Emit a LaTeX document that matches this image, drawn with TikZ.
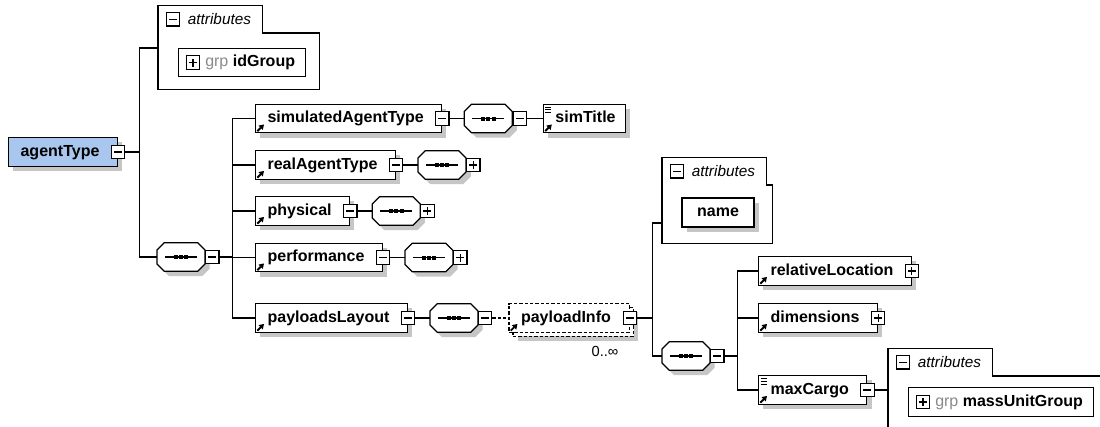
\documentclass[tikz,border=0pt]{standalone}
\usepackage{fontspec}
\setmainfont{Liberation Sans}
\usepackage{xcolor}
\usepackage{tikz}
\usetikzlibrary{arrows.meta,positioning,shadows}
\definecolor{rootblue}{HTML}{A8C6EE}
\definecolor{shadegray}{HTML}{C6C6C6}
\definecolor{grpgray}{HTML}{8A8A8A}
\newcommand{\refmark}{%
  \draw[solid, line width=1.4pt, -{Triangle[length=3.6pt,width=4.4pt]}]
    ([shift={(1.3pt,1.3pt)}]path picture bounding box.south west) -- ++(5pt,5pt);}
\newcommand{\textmark}{%
  \foreach \h in {2.2pt,4.2pt,6.2pt}
    \draw[solid, line width=0.6pt] ([shift={(1.5pt,-\h)}]path picture bounding box.north west) -- ++(4.5pt,0pt);}
\newcommand{\minusmark}{%
  \draw[line width=0.8pt] ([xshift=-3pt]path picture bounding box.center) -- ++(6pt,0pt);}
\newcommand{\plusmark}{\minusmark
  \draw[line width=0.8pt] ([yshift=-3pt]path picture bounding box.center) -- ++(0pt,6pt);}
% octagon of a sequence compositor, drawn round its node
\newcommand{\octa}[1]{%
  \filldraw[fill=white, grayshadow] ([xshift=5.5pt]#1.north west) -- ([xshift=-5.5pt]#1.north east)
    -- ([yshift=-5.5pt]#1.north east) -- ([yshift=5.5pt]#1.south east)
    -- ([xshift=-5.5pt]#1.south east) -- ([xshift=5.5pt]#1.south west)
    -- ([yshift=5.5pt]#1.south west) -- ([yshift=-5.5pt]#1.north west) -- cycle;
  \draw ([xshift=-12pt]#1.center) -- ++(24pt,0pt);
  \foreach \d in {-4pt,0pt,4pt}
    \fill[black] ([xshift=\d]#1.center) +(-1.5pt,-1.5pt) rectangle +(1.5pt,1.5pt);}

\begin{document}
\begin{tikzpicture}[x=0.75pt, y=-0.75pt, line width=0.9pt,
  font=\fontsize{12}{14}\selectfont,
  grayshadow/.style={drop shadow={shadow xshift=3.5pt, shadow yshift=-3.5pt,
                     fill=shadegray, opacity=1}},
  ebox/.style={draw, fill=white, anchor=west, font=\fontsize{12}{14}\selectfont\bfseries,
               minimum height=21.5pt, inner sep=0pt, text height=9pt, text depth=2.5pt,
               execute at begin node={\hspace*{9pt}}, execute at end node={\hspace*{#1}},
               path picture={\refmark}},
  ebox/.default=13.5pt,
  elem/.style={ebox=#1, grayshadow}, elem/.default=13.5pt,
  elemtxt/.style={elem=#1, path picture={\refmark\textmark}}, elemtxt/.default=13.5pt,
  opt/.style={dash pattern=on 2.5pt off 1.5pt},
  seq/.style={anchor=west, minimum width=36pt, minimum height=21.5pt, inner sep=0pt,
              outer sep=0pt},
  tgl/.style={draw, fill=white, minimum size=10pt, inner sep=0pt, path picture={\minusmark}},
  tglp/.style={tgl, path picture={\plusmark}},
  attrbox/.style={fill=white, anchor=north west, inner sep=0pt},
  attrtab/.style={anchor=south west, minimum height=19.5pt, inner sep=0pt,
                  font=\fontsize{11.5}{13}\selectfont\itshape,
                  execute at begin node={\hspace*{22pt}}, execute at end node={\hspace*{8pt}}},
  grpbox/.style={draw, fill=white, anchor=west, minimum height=21.5pt, inner sep=0pt,
                 font=\fontsize{12}{14}\selectfont\bfseries, text height=9pt, text depth=2.5pt,
                 execute at begin node={\hspace*{20pt}}, execute at end node={\hspace*{8pt}}}]
\useasboundingbox (0,0) rectangle (1100,426);
\clip (0,0) rectangle (1100,426);
% root element and its attributes
\node[ebox=13.5pt, grayshadow, fill=rootblue, path picture={}] (agent) at (8,152) {agentType};
\node[tgl] (agent-t) at (agent.east) {};
\node[attrbox, minimum width=120pt, minimum height=41.25pt] (attrA) at (158,33) {};
\node[attrtab] (attrA-tab) at (attrA.north west) {attributes};
\draw (attrA.south west) |- (attrA-tab.north east) |- (attrA.north east) |- (attrA.south west) -- cycle;
\node[tgl] (attrA-t) at ([xshift=11.25pt]attrA-tab.west) {};
\node[grpbox] (idg) at (178,62.5) {\textcolor{grpgray}{\mdseries grp}\ idGroup};
\node[tglp] (idg-t) at ([xshift=11.25pt]idg.west) {};
% sequence of agentType
\node[seq] (seqA) at (157,257) {}; \octa{seqA}
\node[tgl, right=0pt of seqA] (seqA-t) {};
\node[elem] (simA) at (255,118.5) {simulatedAgentType};
\node[tgl] (simA-t) at (simA.east) {};
\node[seq, right=11pt of simA-t] (seqS) {}; \octa{seqS}
\node[tgl, right=0pt of seqS] (seqS-t) {};
\node[elemtxt=7.5pt, right=12pt of seqS-t] (simT) {simTitle};
\node[elem] (realA) at (255,165) {realAgentType};
\node[tgl] (realA-t) at (realA.east) {};
\node[seq, right=11pt of realA-t] (seqR) {}; \octa{seqR}
\node[tglp, right=0pt of seqR] (seqR-t) {};
\node[elem] (phys) at (255,211) {physical};
\node[tgl] (phys-t) at (phys.east) {};
\node[seq, right=11pt of phys-t] (seqH) {}; \octa{seqH}
\node[tglp, right=0pt of seqH] (seqH-t) {};
\node[elem] (perf) at (255,257.5) {performance};
\node[tgl] (perf-t) at (perf.east) {};
\node[seq, right=11pt of perf-t] (seqF) {}; \octa{seqF}
\node[tglp, right=0pt of seqF] (seqF-t) {};
\node[elem] (payL) at (255,318) {payloadsLayout};
\node[tgl] (payL-t) at (payL.east) {};
\node[seq, right=11pt of payL-t] (seqL) {}; \octa{seqL}
\node[tgl, right=0pt of seqL] (seqL-t) {};
% payloadInfo, 0..unbounded
\node[ebox=14pt, opt, grayshadow, path picture={}, right=12pt of seqL-t,
      xshift=3pt, yshift=-3pt] (payI-bk) {\phantom{payloadInfo}};
\node[ebox=14pt, opt, right=12pt of seqL-t] (payI) {payloadInfo};
\node[tgl] (payI-t) at (payI.east) {};
\node[anchor=north east, font=\fontsize{11}{13}\selectfont] (payI-n)
  at ([shift={(-5pt,-6pt)}]payI.south east) {0..∞};
\node[attrbox, minimum width=81.75pt, minimum height=42.75pt] (attrB) at (662,185) {};
\node[attrtab] (attrB-tab) at (attrB.north west) {attributes};
\draw (attrB.south west) |- (attrB-tab.north east) |- (attrB.north east) |- (attrB.south west) -- cycle;
\node[tgl] (attrB-t) at ([xshift=11.25pt]attrB-tab.west) {};
\node[draw, fill=white, grayshadow, font=\fontsize{12}{14}\selectfont\bfseries,
      minimum width=54pt, minimum height=21.75pt, inner sep=0pt] (nameB) at (718,212.5) {name};
\node[seq] (seqP) at (662,356) {}; \octa{seqP}
\node[tgl, right=0pt of seqP] (seqP-t) {};
\node[elem] (relL) at (758,271) {relativeLocation};
\node[tglp] (relL-t) at (relL.east) {};
\node[elem] (dims) at (758,318) {dimensions};
\node[tglp] (dims-t) at (dims.east) {};
\node[elemtxt=13.5pt] (maxC) at (758,390) {maxCargo};
\node[tgl] (maxC-t) at (maxC.east) {};
\node[attrbox, minimum width=166.5pt, minimum height=48pt] (attrC) at (888,376) {};
\node[attrtab] (attrC-tab) at (attrC.north west) {attributes};
\draw (attrC.south west) |- (attrC-tab.north east) |- (attrC.north east) |- (attrC.south west) -- cycle;
\node[tgl] (attrC-t) at ([xshift=11.25pt]attrC-tab.west) {};
\node[grpbox] (mug) at (908,402) {\textcolor{grpgray}{\mdseries grp}\ massUnitGroup};
\node[tglp] (mug-t) at ([xshift=11.25pt]mug.west) {};
% connectors
\draw (agent-t.east) -- ++(10.5pt,0pt) |- ([yshift=-11.25pt]attrA.north west);
\draw (agent-t.east) -- ++(10.5pt,0pt) |- (seqA.west);
\foreach \c in {simA,realA,phys,perf,payL}
  \draw (seqA-t.east) -- ++(9.75pt,0pt) |- (\c.west);
\draw (simA-t.east) -- (seqS.west);
\draw (seqS-t.east) -- (simT.west);
\draw (realA-t.east) -- (seqR.west);
\draw (phys-t.east) -- (seqH.west);
\draw (perf-t.east) -- (seqF.west);
\draw (payL-t.east) -- (seqL.west);
\draw[opt] (seqL-t.east) -- (payI.west);
\draw (payI-t.east) -- ++(11.25pt,0pt) |- ([yshift=-28.5pt]attrB.north west);
\draw (payI-t.east) -- ++(11.25pt,0pt) |- (seqP.west);
\foreach \c in {relL,dims,maxC}
  \draw (seqP-t.east) -- ++(9.75pt,0pt) |- (\c.west);
\draw (maxC-t.east) -- (maxC-t.east -| attrC.north west);
\end{tikzpicture}
\end{document}
